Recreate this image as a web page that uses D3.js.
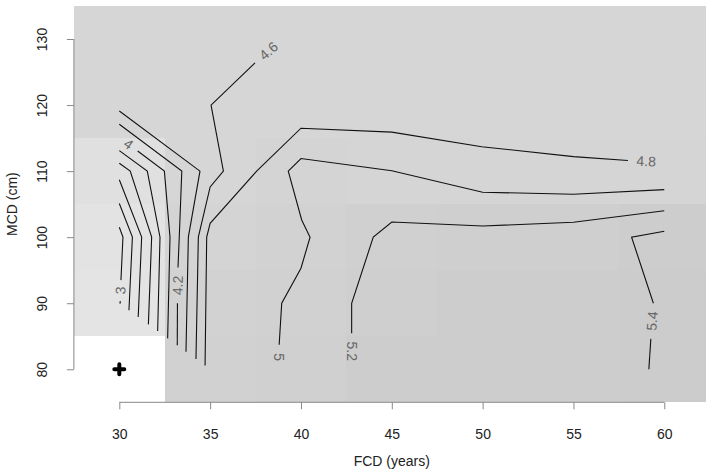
<!DOCTYPE html>
<html lang="en">
<head>
<meta charset="UTF-8">
<title>FCD / MCD contour</title>
<script src="https://d3js.org/d3.v7.min.js"></script>
<style>
  html, body { margin:0; background:#fff; }
  svg { display:block; font-family:"Liberation Sans", Arial, sans-serif; }
  .contour { fill:none; stroke:#111; stroke-width:1.1px; }
  .clab { fill:#666; font-size:14px; }
  .tick text, .title { fill:#222; font-size:14px; }
</style>
</head>
<body>
<svg id="chart" width="706" height="470"></svg>
<script>
// grid of the image
const fcd = [30, 35, 40, 45, 50, 55, 60];
const mcd = [80, 90, 100, 110, 120, 130];

// cell darkness, rows follow mcd, columns follow fcd (null = missing)
const shade = [
  [null, 0.18, 0.185, 0.195, 0.195, 0.195, 0.2],
  [0.105, 0.175, 0.18, 0.19, 0.195, 0.195, 0.2],
  [0.11, 0.17, 0.175, 0.185, 0.19, 0.19, 0.195],
  [0.12, 0.16, 0.17, 0.165, 0.165, 0.165, 0.165],
  [0.16, 0.16, 0.16, 0.16, 0.16, 0.16, 0.16],
  [0.16, 0.16, 0.16, 0.16, 0.16, 0.16, 0.16]
];

// contour lines, [FCD, MCD] vertices
const contourLevels = [3, 3.2, 3.4, 3.6, 3.8, 4, 4.2, 4.4, 4.6, 4.8, 5, 5.2, 5.4];
const contourPaths = [
  [[30,101.5],[30.2,100],[30.09,93.5],[30.05,90.35],[30.04,89.92]],
  [[30,105.1],[30.72,100],[30.53,88.94]],
  [[30,108.7],[31.23,100],[31.04,87.92]],
  [[30,111.2],[30.6,110],[31.78,100],[31.6,86.8]],
  [[30,113.1],[31.54,110],[32.24,100],[32.11,85.78]],
  [[30,115.1],[31.01,113.05],[32.48,110],[32.79,100],[32.66,84.68]],
  [[30,117.1],[33.44,110],[33.3,100],[33.23,95.4],[33.2,90],[33.19,83.62]],
  [[30,119.1],[34.44,110],[33.8,100],[33.67,82.66]],
  [[38.96,130],[37.47,126.4],[35.05,120],[35.73,110],[35.0,107.6],[34.35,100],[34.22,81.56]],
  [[60,111.4],[58,111.6],[55,112.2],[49.95,113.7],[45,115.9],[40,116.5],[37.56,110],[35,102.1],[34.81,100],[34.72,80.56]],
  [[60,107.2],[55,106.5],[50,106.8],[45,110.05],[40,111.9],[39.3,110],[40.04,102.6],[40.5,100],[40,95.3],[38.94,90],[38.8,83.7],[38.8,80]],
  [[60,104],[55,102.25],[50,101.7],[45,102.3],[43.98,100],[42.79,90],[42.79,85.45],[42.79,80]],
  [[60,100.9],[58.2,100],[59.4,90],[59.26,84.6],[59.15,80]]
];
// segment of each path that carries the label (-1 = no label)
const labelGap = [2, -1, -1, -1, -1, 0, 3, -1, 0, 0, 10, 6, 2];

// missing cell marker
const marker = [30, 80];

const svg = d3.select("#chart");
const x = d3.scaleLinear().domain([27.5, 62.5]).range([73.9, 709.7]);
const y = d3.scaleLinear().domain([75, 135]).range([402.3, 6]);
const grey = d3.scaleLinear().domain([0, 1]).range(["#ffffff", "#000000"]);

// image cells
const cells = [];
mcd.forEach((m, i) => fcd.forEach((f, j) => {
  if (shade[i][j] != null) cells.push({f, m, v: shade[i][j]});
}));
svg.append("g").attr("shape-rendering", "crispEdges")
  .selectAll("rect").data(cells).join("rect")
    .attr("x", d => x(d.f - 2.5))
    .attr("y", d => y(d.m + 5))
    .attr("width", d => x(d.f + 2.5) - x(d.f - 2.5))
    .attr("height", d => y(d.m - 5) - y(d.m + 5))
    .attr("fill", d => grey(d.v));

// contour lines, broken where the label sits
const line = d3.line().x(d => x(d[0])).y(d => y(d[1]));
const cg = svg.append("g");
contourPaths.forEach((pts, k) => {
  const gap = labelGap[k];
  const pieces = gap < 0 ? [pts] : [pts.slice(0, gap + 1), pts.slice(gap + 1)];
  pieces.filter(p => p.length > 1).forEach(p =>
    cg.append("path").attr("class", "contour").attr("d", line(p)));
  if (gap >= 0) {
    const a = pts[gap], b = pts[gap + 1];
    const x0 = x(a[0]), y0 = y(a[1]), x1 = x(b[0]), y1 = y(b[1]);
    let ang = Math.atan2(y1 - y0, x1 - x0) * 180 / Math.PI;
    if (ang > 90) ang -= 180;
    if (ang < -90) ang += 180;
    cg.append("text").attr("class", "clab")
      .attr("transform", `translate(${(x0 + x1) / 2},${(y0 + y1) / 2}) rotate(${ang})`)
      .attr("text-anchor", "middle")
      .attr("dy", "0.35em")
      .text(contourLevels[k]);
  }
});

// marker
svg.append("path")
  .attr("d", `M${x(marker[0]) - 5},${y(marker[1])}h10M${x(marker[0])},${y(marker[1]) - 5}v10`)
  .attr("stroke", "#000").attr("stroke-width", 4).attr("stroke-linecap", "round");

// axes, R style: line only between the outer ticks
const xt = x.ticks(7), yt = y.ticks(6);
const xa = svg.append("g").attr("transform", `translate(0,${y.range()[0]})`)
  .call(d3.axisBottom(x).tickValues(xt).tickSize(7).tickSizeOuter(0).tickPadding(20));
xa.select(".domain").attr("d", `M${x(xt[0])},0H${x(xt[xt.length - 1])}`);
const ya = svg.append("g").attr("transform", `translate(${x.range()[0]},0)`)
  .call(d3.axisLeft(y).tickValues(yt).tickSize(7).tickSizeOuter(0).tickPadding(20));
ya.select(".domain").attr("d", `M0,${y(yt[0])}V${y(yt[yt.length - 1])}`);
ya.selectAll(".tick text")
  .attr("transform", "rotate(-90)")
  .attr("x", 0).attr("y", -32).attr("dy", "0.35em")
  .attr("text-anchor", "middle");
svg.selectAll(".domain, .tick line").attr("stroke", "#888");
svg.selectAll(".tick text").attr("font-family", null).attr("font-size", null);

const mid = (x.range()[0] + x.range()[1]) / 2;
svg.append("text").attr("class", "title")
  .attr("x", mid).attr("y", 466).attr("text-anchor", "middle").text("FCD (years)");
svg.append("text").attr("class", "title")
  .attr("transform", `translate(17,${(y.range()[0] + y.range()[1]) / 2}) rotate(-90)`)
  .attr("text-anchor", "middle").text("MCD (cm)");
</script>
</body>
</html>
